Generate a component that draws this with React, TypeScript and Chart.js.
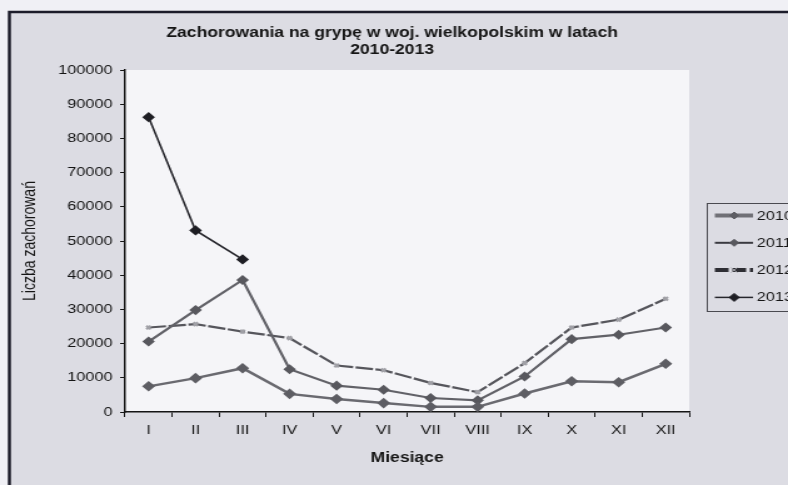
import React, { useEffect, useRef } from 'react';
import { Chart, registerables } from 'chart.js';

Chart.register(...registerables);

// ---- data ----
const months = ['I', 'II', 'III', 'IV', 'V', 'VI', 'VII', 'VIII', 'IX', 'X', 'XI', 'XII'];
const cases2010 = [7500, 9900, 12800, 5300, 3800, 2600, 1500, 1500, 5400, 9000, 8700, 14100];
const cases2011 = [20600, 29800, 38600, 12500, 7700, 6500, 4100, 3400, 10400, 21300, 22600, 24700];
const cases2012 = [24700, 25700, 23500, 21600, 13600, 12200, 8500, 5800, 14300, 24700, 27000, 33100];
const cases2013 = [86200, 53100, 44600, null, null, null, null, null, null, null, null, null];
const seriesLabels = ['2010', '2011', '2012', '2013'];
const yMin = 0;
const yMax = 100000;
const yStep = 10000;
const titleLines = ['Zachorowania na grypę w woj. wielkopolskim w latach', '2010-2013'];
const xTitle = 'Miesiące';
const yTitle = 'Liczba zachorowań';

// the scanned picture is stretched horizontally; draw narrower and stretch via CSS
const CSS_W = 788;
const CSS_H = 485;
const INNER_W = 630;
const FONT = "'Liberation Sans', Arial, sans-serif";

const bgPlugin = {
  id: 'scanBg',
  beforeDraw(chart: any) {
    const { ctx, width, height, chartArea: a } = chart;
    ctx.save();
    ctx.fillStyle = '#f0f0f5';
    ctx.fillRect(0, 0, width, height);
    ctx.fillStyle = '#dcdce3';
    ctx.fillRect(7, 11, width, height);
    ctx.strokeStyle = '#1c1c2a';
    ctx.lineWidth = 2.5;
    ctx.strokeRect(7.5, 12, width + 40, height + 40);
    ctx.fillStyle = '#f5f5f8';
    ctx.fillRect(a.left, a.top, a.right - a.left, a.bottom - a.top);
    ctx.restore();
  },
};

const titlePlugin = {
  id: 'scanTitle',
  afterDraw(chart: any) {
    const { ctx } = chart;
    ctx.save();
    ctx.fillStyle = '#151515';
    ctx.font = `bold 14px ${FONT}`;
    ctx.textAlign = 'center';
    ctx.textBaseline = 'middle';
    titleLines.forEach((t, i) => ctx.fillText(t, 313.5, 33 + i * 17));
    ctx.restore();
  },
};

function drawMarker(ctx: CanvasRenderingContext2D, style: string, x: number, y: number, r: number, fill: string, stroke: string) {
  ctx.save();
  ctx.fillStyle = fill;
  ctx.strokeStyle = stroke;
  ctx.lineWidth = 1;
  ctx.setLineDash([]);
  ctx.beginPath();
  if (style === 'rectRot') {
    ctx.moveTo(x, y - r);
    ctx.lineTo(x + r, y);
    ctx.lineTo(x, y + r);
    ctx.lineTo(x - r, y);
    ctx.closePath();
    ctx.fill();
    ctx.stroke();
  } else if (style === 'crossRot') {
    ctx.moveTo(x - r, y - r);
    ctx.lineTo(x + r, y + r);
    ctx.moveTo(x + r, y - r);
    ctx.lineTo(x - r, y + r);
    ctx.stroke();
  } else {
    ctx.arc(x, y, r, 0, Math.PI * 2);
    ctx.fill();
  }
  ctx.restore();
}

const legendPlugin = {
  id: 'scanLegend',
  afterDraw(chart: any) {
    const { ctx } = chart;
    const left = 565;
    const top = 203;
    ctx.save();
    ctx.strokeStyle = '#4a4a50';
    ctx.lineWidth = 1;
    ctx.strokeRect(left + 0.5, top + 0.5, 120, 108);
    chart.data.datasets.forEach((ds: any, i: number) => {
      const y = top + 12.5 + i * 27.3;
      ctx.save();
      ctx.strokeStyle = ds.legendColor || ds.borderColor;
      ctx.lineWidth = ds.legendWidth;
      ctx.setLineDash(ds.legendDash || []);
      ctx.beginPath();
      ctx.moveTo(left + 6.5, y);
      ctx.lineTo(left + 37, y);
      ctx.stroke();
      ctx.restore();
      drawMarker(ctx, ds.pointStyle, left + 22, y, ds.pointRadius, ds.pointBackgroundColor, ds.pointBorderColor);
      ctx.fillStyle = '#151515';
      ctx.font = `13px ${FONT}`;
      ctx.textAlign = 'left';
      ctx.textBaseline = 'middle';
      ctx.fillText(ds.label, left + 40, y + 0.5);
    });
    ctx.restore();
  },
};

export default function App() {
  const ref = useRef<HTMLCanvasElement>(null);

  useEffect(() => {
    const canvas = ref.current;
    if (!canvas) return;
    const chart = new Chart(canvas, {
      type: 'line',
      data: {
        labels: months,
        datasets: [
          {
            label: seriesLabels[0],
            data: cases2010,
            borderColor: '#6a6a70',
            borderWidth: 2.5,
            pointStyle: 'rectRot',
            pointRadius: 3.5,
            pointBackgroundColor: '#5e5e64',
            pointBorderColor: '#5e5e64',
            legendWidth: 4,
            legendColor: '#707076',
          } as any,
          {
            label: seriesLabels[1],
            data: cases2011,
            borderColor: '#626268',
            borderWidth: 2.2,
            pointStyle: 'rectRot',
            pointRadius: 3.5,
            pointBackgroundColor: '#58585e',
            pointBorderColor: '#58585e',
            legendWidth: 2,
            legendColor: '#3a3a40',
          } as any,
          {
            label: seriesLabels[2],
            data: cases2012,
            borderColor: '#56565c',
            borderWidth: 2.2,
            borderDash: [14, 2],
            pointStyle: 'crossRot',
            pointRadius: 2.5,
            pointBackgroundColor: '#a0a0a6',
            pointBorderColor: '#a0a0a6',
            legendWidth: 4,
            legendColor: '#2e2e34',
            legendDash: [11, 3],
          } as any,
          {
            label: seriesLabels[3],
            data: cases2013,
            borderColor: '#26262c',
            borderWidth: 1.6,
            pointStyle: 'rectRot',
            pointRadius: 4,
            pointBackgroundColor: '#1e1e24',
            pointBorderColor: '#1e1e24',
            legendWidth: 1.5,
          } as any,
        ],
      },
      options: {
        responsive: false,
        devicePixelRatio: 1,
        animation: false,
        events: [],
        layout: { padding: { left: 8, right: INNER_W - 551, top: 70, bottom: 0 } },
        plugins: {
          legend: { display: false },
          title: { display: false },
          tooltip: { enabled: false },
        },
        scales: {
          x: {
            type: 'category',
            offset: true,
            grid: { offset: true, drawOnChartArea: false, drawTicks: true, tickLength: 5, color: '#151515', lineWidth: 1 },
            border: { display: true, color: '#151515', width: 1.5 },
            ticks: { color: '#151515', font: { family: FONT, size: 13 }, padding: 6, maxRotation: 0, autoSkip: false },
            title: {
              display: true,
              text: xTitle,
              color: '#151515',
              font: { family: FONT, size: 14, weight: 'bold' },
              padding: { top: 0, bottom: 18.6 },
            },
            afterFit: (s: any) => {
              s.height = 73;
            },
          },
          y: {
            min: yMin,
            max: yMax,
            ticks: {
              stepSize: yStep,
              color: '#151515',
              font: { family: FONT, size: 13 },
              padding: 6,
              callback: (v: any) => String(v),
            },
            grid: { drawOnChartArea: false, drawTicks: true, tickLength: 4, color: '#151515', lineWidth: 1 },
            border: { display: true, color: '#151515', width: 1.5 },
            title: {
              display: true,
              text: yTitle,
              color: '#151515',
              font: { family: FONT, size: 14 },
              padding: { top: 8, bottom: 0 },
            },
            afterFit: (s: any) => {
              s.width = 92;
            },
          },
        },
      } as any,
      plugins: [bgPlugin, titlePlugin, legendPlugin],
    });
    return () => chart.destroy();
  }, []);

  return (
    <div style={{ position: 'fixed', left: 0, top: 0, width: CSS_W, height: CSS_H, overflow: 'hidden' }}>
      <canvas
        ref={ref}
        width={INNER_W}
        height={CSS_H}
        style={{ width: `${CSS_W}px`, height: `${CSS_H}px`, display: 'block' }}
      />
    </div>
  );
}
